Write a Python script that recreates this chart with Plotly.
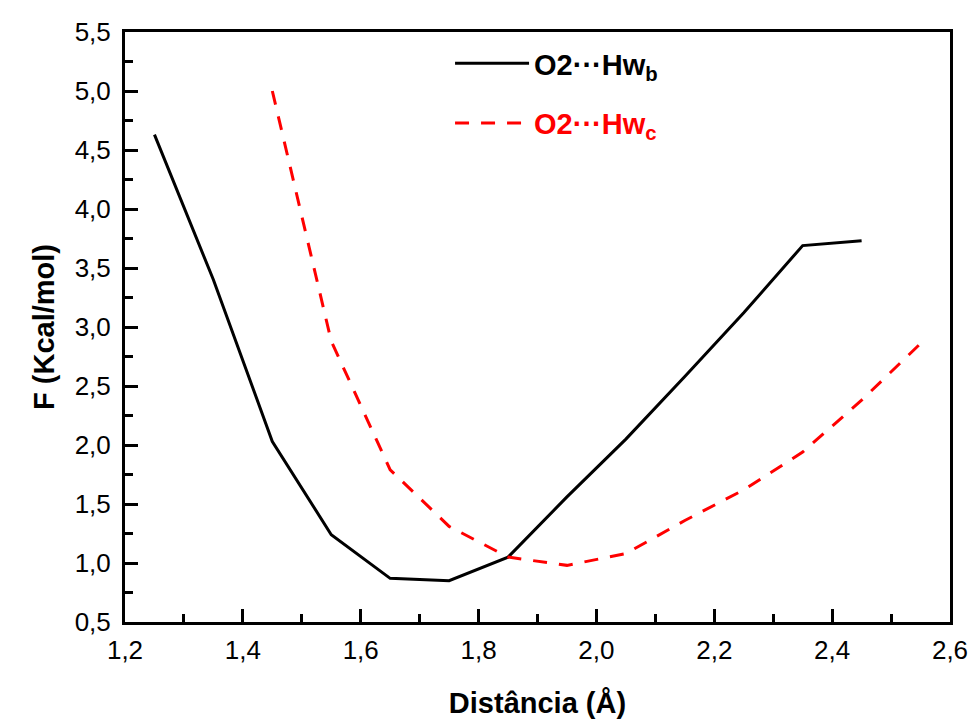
import plotly.graph_objects as go

# Data
x_b = [1.25, 1.35, 1.45, 1.55, 1.65, 1.75, 1.85, 1.95, 2.05, 2.15, 2.25, 2.35, 2.45]
f_b = [4.63, 3.40, 2.03, 1.24, 0.87, 0.85, 1.05, 1.56, 2.05, 2.58, 3.12, 3.69, 3.73]

x_c = [1.45, 1.55, 1.65, 1.75, 1.85, 1.95, 2.05, 2.15, 2.25, 2.35, 2.45, 2.55]
f_c = [5.00, 2.88, 1.79, 1.31, 1.05, 0.98, 1.08, 1.36, 1.62, 1.94, 2.38, 2.86]

name_b = "O2\u00b7\u00b7\u00b7Hw<sub>b</sub>"
name_c = "O2\u00b7\u00b7\u00b7Hw<sub>c</sub>"

FONT = "Liberation Sans, Arial, sans-serif"

fig = go.Figure()
fig.add_trace(go.Scatter(x=x_b, y=f_b, mode="lines",
                         name="<b><span style='color:black'>" + name_b + "</span></b>",
                         line=dict(color="black", width=3), legendgroup="b"))
fig.add_trace(go.Scatter(x=x_c, y=f_c, mode="lines",
                         name="<b><span style='color:#ff0000'>" + name_c + "</span></b>",
                         line=dict(color="#ff0000", width=3, dash="14px,12px"),
                         legendgroup="c"))

axis_common = dict(
    showline=True, linecolor="black", linewidth=3, mirror=True,
    ticks="inside", tickcolor="black", tickwidth=3, ticklen=13,
    showgrid=False, zeroline=False, automargin=False,
    tickfont=dict(family=FONT, size=26, color="black"),
    tickformat=".1f",
)

fig.update_layout(
    width=971, height=720,
    margin=dict(l=125, r=21, t=32, b=98),
    paper_bgcolor="white", plot_bgcolor="white",
    separators=",.",
    showlegend=True,
    legend=dict(x=0.394, y=0.99, xanchor="left", yanchor="top",
                bgcolor="rgba(0,0,0,0)", traceorder="grouped", tracegroupgap=19,
                font=dict(family=FONT, size=29, color="black"),
                itemwidth=74),
    xaxis=dict(range=[1.2, 2.6], dtick=0.2, tick0=1.2,
               minor=dict(dtick=0.1, ticks="inside", ticklen=8, tickwidth=3, tickcolor="black"),
               ticklabelstandoff=3,
               title=dict(text="<b>Distância (Å)</b>", font=dict(family=FONT, size=29, color="black"), standoff=29),
               **axis_common),
    yaxis=dict(range=[0.5, 5.5], dtick=0.5, tick0=0.5,
               minor=dict(dtick=0.25, ticks="inside", ticklen=8, tickwidth=3, tickcolor="black"),
               ticklabelstandoff=6,
               title=dict(text="<b>F (Kcal/mol)</b>", font=dict(family=FONT, size=29, color="black"), standoff=12),
               **axis_common),
)

fig.write_html("out.html")
